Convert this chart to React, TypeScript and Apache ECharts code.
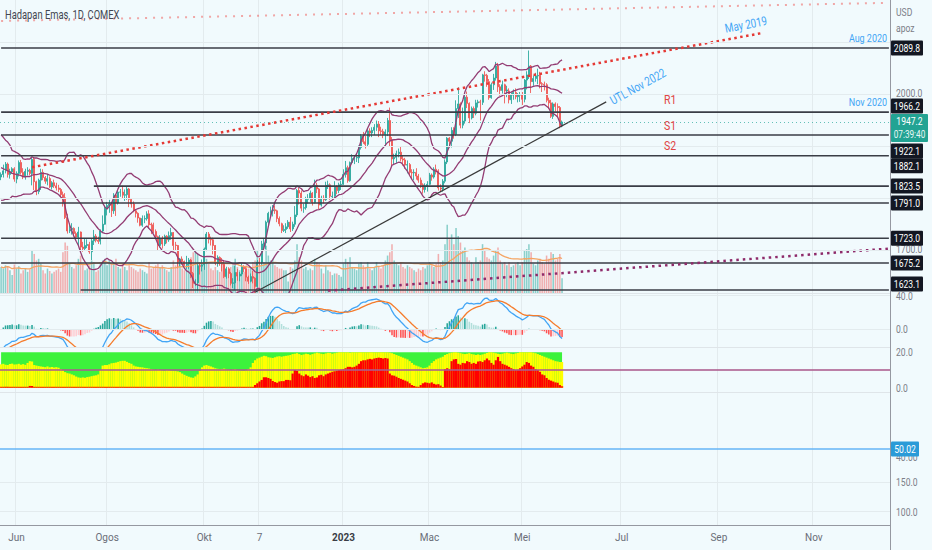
import React, { useEffect, useRef } from "react";
import * as echarts from "echarts";

const FONT = "Roboto, 'Liberation Sans', sans-serif";
const SX = 0.78; // the reference's texts are horizontally condensed

// ---------------- DATA ----------------
const firstDate = "2022-05-20";
const holidays = ["2022-05-30", "2022-06-20", "2022-07-04", "2022-09-05", "2022-11-24", "2022-12-26", "2023-01-02", "2023-01-16", "2023-02-20", "2023-04-07"];
const totalSlots = 403;

// daily candles: [open, close, low, high]
const ohlcMay22 = [[1841,1846,1835,1850],[1846,1853,1840,1865],[1853,1866,1848,1870],[1866,1846,1840,1869],[1846,1851,1838,1857],[1851,1857,1847,1860],[1857,1837,1832,1860]];
const ohlcJun22 = [[1837,1848,1829,1852],[1848,1869,1842,1873],[1869,1850,1846,1874],[1850,1841,1837,1858],[1841,1852,1836,1857],[1852,1854,1844,1860],[1854,1848,1844,1857],[1848,1875,1825,1878],[1875,1832,1816,1878],[1832,1813,1806,1834],[1813,1835,1808,1838],[1835,1850,1816,1857],[1850,1840,1835,1856],[1840,1833,1828,1843],[1833,1838,1825,1847],[1838,1822,1820,1842],[1822,1830,1817,1833],[1830,1824,1820,1836],[1824,1820,1815,1830],[1820,1817,1812,1826],[1817,1807,1802,1820]];
const ohlcJul22 = [[1807,1801,1784,1813],[1801,1763,1760,1810],[1763,1737,1732,1770],[1737,1740,1733,1748],[1740,1742,1730,1752],[1742,1732,1729,1744],[1732,1725,1722,1736],[1725,1735,1709,1745],[1735,1706,1697,1736],[1706,1703,1697,1716],[1703,1709,1700,1723],[1709,1711,1704,1721],[1711,1697,1693,1716],[1697,1718,1681,1722],[1718,1727,1710,1739],[1727,1719,1715,1731],[1719,1717,1712,1726],[1717,1737,1711,1740],[1737,1750,1733,1767],[1750,1781,1749,1784]];
const ohlcAug22 = [[1781,1786,1767,1793],[1786,1789,1772,1797],[1789,1776,1764,1791],[1776,1806,1770,1810],[1806,1791,1766,1808],[1791,1812,1788,1815],[1812,1812,1803,1818],[1812,1806,1800,1824],[1806,1807,1795,1817],[1807,1818,1797,1822],[1818,1798,1783,1820],[1798,1789,1782,1800],[1789,1776,1773,1794],[1776,1771,1763,1779],[1771,1762,1753,1773],[1762,1748,1746,1763],[1748,1761,1745,1767],[1760,1761,1752,1767],[1761,1770,1757,1775],[1770,1749,1742,1777],[1750,1749,1731,1753],[1749,1736,1733,1753],[1736,1726,1721,1740]];
const ohlcSep22 = [[1726,1709,1700,1728],[1709,1722,1705,1729],[1722,1712,1703,1727],[1712,1727,1708,1730],[1727,1720,1713,1729],[1720,1728,1716,1736],[1728,1734,1720,1743],[1734,1709,1697,1735],[1710,1709,1700,1716],[1709,1677,1665,1710],[1677,1683,1668,1685],[1683,1678,1672,1688],[1678,1671,1668,1680],[1671,1673,1664,1689],[1673,1681,1664,1685],[1681,1655,1646,1683],[1655,1636,1627,1658],[1636,1637,1631,1644],[1637,1670,1622,1674],[1670,1669,1653,1675],[1669,1672,1659,1682]];
const ohlcOct22 = [[1672,1702,1662,1705],[1702,1731,1698,1735],[1731,1721,1713,1735],[1721,1720,1709,1726],[1720,1709,1692,1724],[1709,1675,1671,1710],[1675,1686,1668,1690],[1686,1677,1670,1688],[1677,1673,1659,1685],[1673,1649,1646,1680],[1649,1664,1645,1668],[1664,1655,1646,1667],[1655,1636,1632,1658],[1636,1637,1627,1646],[1637,1657,1623,1670],[1657,1650,1641,1664],[1650,1654,1640,1658],[1654,1669,1650,1675],[1669,1664,1658,1671],[1664,1648,1640,1668],[1648,1640,1635,1651]];
const ohlcNov22 = [[1640,1649,1638,1655],[1649,1646,1636,1660],[1646,1630,1617,1648],[1630,1677,1628,1681],[1677,1676,1670,1685],[1676,1712,1672,1718],[1712,1714,1701,1722],[1714,1754,1702,1757],[1754,1771,1746,1774],[1771,1776,1765,1784],[1776,1778,1765,1787],[1778,1776,1770,1786],[1776,1761,1754,1778],[1761,1751,1746,1765],[1751,1738,1733,1753],[1738,1740,1735,1748],[1740,1745,1733,1752],[1745,1754,1741,1758],[1754,1741,1735,1764],[1741,1750,1737,1755],[1750,1768,1745,1785]];
const ohlcDec22 = [[1768,1815,1764,1818],[1815,1810,1788,1820],[1810,1781,1775,1815],[1781,1782,1772,1790],[1782,1798,1778,1803],[1798,1800,1790,1808],[1800,1810,1793,1815],[1810,1792,1786,1812],[1792,1825,1790,1836],[1825,1818,1810,1830],[1818,1787,1779,1820],[1787,1800,1784,1805],[1800,1797,1790,1806],[1797,1825,1795,1832],[1825,1826,1818,1834],[1826,1804,1797,1829],[1803,1804,1798,1813],[1804,1823,1800,1833],[1823,1815,1808,1825],[1815,1826,1810,1830],[1826,1827,1816,1834]];
const ohlcJan23 = [[1827,1846,1826,1856],[1846,1859,1840,1872],[1859,1834,1830,1863],[1834,1869,1832,1871],[1869,1877,1866,1885],[1877,1878,1866,1883],[1878,1879,1870,1885],[1878,1898,1868,1902],[1898,1920,1894,1924],[1920,1909,1905,1928],[1909,1904,1896,1920],[1904,1930,1900,1935],[1930,1926,1918,1935],[1926,1931,1918,1937],[1931,1937,1922,1943],[1937,1943,1930,1950],[1943,1930,1918,1949],[1930,1929,1922,1938],[1929,1923,1916,1934],[1923,1928,1900,1933]];
const ohlcFeb23 = [[1928,1950,1920,1955],[1950,1912,1900,1975],[1912,1876,1862,1918],[1876,1879,1866,1886],[1879,1886,1868,1892],[1886,1889,1879,1896],[1889,1876,1871,1900],[1876,1874,1863,1882],[1874,1864,1857,1878],[1864,1865,1848,1873],[1865,1850,1845,1868],[1850,1849,1838,1856],[1849,1850,1835,1856],[1850,1843,1836,1858],[1843,1835,1830,1847],[1835,1826,1820,1840],[1826,1817,1809,1829],[1817,1824,1811,1829],[1824,1827,1813,1833]];
const ohlcMar23 = [[1827,1845,1825,1849],[1845,1841,1834,1848],[1841,1856,1838,1860],[1856,1853,1846,1865],[1853,1820,1815,1856],[1820,1818,1812,1827],[1818,1833,1813,1837],[1833,1870,1829,1875],[1870,1916,1866,1918],[1916,1910,1898,1918],[1910,1931,1898,1937],[1931,1923,1915,1937],[1923,1973,1920,1989],[1973,1982,1955,2014],[1982,1941,1935,1985],[1941,1949,1935,1975],[1949,1995,1944,2000],[1995,1983,1974,2006],[1983,1955,1945,1985],[1955,1973,1952,1977],[1973,1964,1955,1977],[1964,1984,1960,1990],[1984,1986,1975,1990]];
const ohlcApr23 = [[1986,1985,1950,1990],[1985,2038,1980,2040],[2038,2037,2025,2045],[2037,2025,2015,2040],[2025,1994,1990,2030],[1994,2019,1992,2023],[2019,2032,2009,2040],[2032,2055,2027,2063],[2055,2015,2005,2061],[2015,2008,1998,2020],[2008,2019,2002,2027],[2019,2007,1983,2021],[2007,2009,1995,2017],[2007,1990,1983,2012],[1990,1999,1982,2004],[1999,2004,1990,2010],[2004,1996,1991,2012],[1996,1999,1985,2003],[1999,2000,1986,2005]];
const ohlcMay23 = [[1999,1991,1980,2005],[1991,2028,1985,2030],[2028,2038,2010,2045],[2038,2055,2030,2085],[2055,2025,2003,2057],[2025,2031,2017,2037],[2031,2036,2025,2042],[2036,2037,2020,2050],[2037,2021,2012,2044],[2021,2020,2005,2024],[2020,2019,2008,2025],[2019,1989,1985,2022],[1989,1984,1972,1994],[1984,1958,1955,1990],[1958,1982,1953,1985],[1982,1977,1967,1985],[1977,1975,1956,1983],[1975,1940,1935,1978],[1940,1947.2,1937,1950]];
const ohlcMonths = [ohlcMay22, ohlcJun22, ohlcJul22, ohlcAug22, ohlcSep22, ohlcOct22, ohlcNov22, ohlcDec22, ohlcJan23, ohlcFeb23, ohlcMar23, ohlcApr23, ohlcMay23];

// closes before the first visible bar (Apr 1 - May 19 2022), only used to seed the indicators
const warmupCloses = [1925,1933,1926,1925,1932,1945,1946,1954,1976,1964,1974,1978,1986,1950,1946,1949,1934,1898,1904,1885,1896,1911,1863,1870,1882,1875,1882,1858,1841,1853,1824,1808,1814,1818,1816,1841];

// volume (thousands of contracts)
const volMay22 = [160,150,170,165,140,110,175];
const volJun22 = [150,165,120,140,150,130,145,260,240,200,210,180,140,120,150,135,120,130,140,150,130];
const volJul22 = [250,310,290,180,160,150,170,210,230,180,140,150,170,200,190,130,140,190,200,210];
const volAug22 = [170,200,180,190,210,160,150,180,160,140,170,160,150,140,130,150,140,130,120,190,150,160,170];
const volSep22 = [180,160,170,150,140,130,160,200,170,230,180,150,140,170,160,220,250,260,240,190,170];
const volOct22 = [220,210,180,150,140,160,140,130,180,170,140,130,160,170,210,160,140,150,130,170,150];
const volNov22 = [160,190,200,260,170,200,190,290,230,200,210,170,160,150,150,140,140,70,160,150,200];
const volDec22 = [300,220,200,150,160,140,150,140,210,190,180,150,120,170,140,130,110,120,120,110,100];
const volJan23 = [180,210,190,220,160,150,140,180,190,170,160,190,150,140,160,190,160,150,170,200];
const volFeb23 = [230,250,300,200,180,170,190,160,150,170,160,150,140,130,150,140,160,150,170];
const volMar23 = [190,170,160,180,240,190,200,300,420,330,360,300,400,350,310,260,280,220,200,190,180,220,190];
const volApr23 = [200,300,260,220,210,200,230,260,280,200,180,190,170,190,160,170,180,190,170];
const volMay23 = [190,260,270,300,250,180,170,200,210,190,180,230,210,250,240,200,210,240,90];
const volMonths = [volMay22, volJun22, volJul22, volAug22, volSep22, volOct22, volNov22, volDec22, volJan23, volFeb23, volMar23, volApr23, volMay23];

// third pane oscillator: green band top, yellow and red columns
const greenTop = 20;
const yelMay22 = [13.2,13.5,13,12.8,13.4,13.6,13.1];
const yelJun22 = [13.2,13.5,13,13.3,12.9,14,15,14.8,12.8,12.5,12.2,12,11.8,11.6,12,11.5,11.7,11.4,11.6,11.3,10.5];
const yelJul22 = [9.8,8.8,8.2,8,7.5,7,6.3,5.8,5.6,5.8,5.6,6,6.2,6.5,6.8,7,7.5,10,12.5,12.8];
const yelAug22 = [12.8,13.2,13.8,14,14.2,14.6,15,15.2,15.2,14.6,14,13.5,12.5,12,11.8,11.6,11.5,11.2,11,10.8,10.5,10.2,10];
const yelSep22 = [10.2,10,9.8,9.6,10,9.8,9.6,9.5,9.4,9.2,8.8,8,7.3,6.7,6.2,5.8,5.6,6.4,7.5,9.5,11.5];
const yelOct22 = [12.5,12.8,12.4,12,11.5,11,10.7,10.5,10.6,10.8,10.4,10.2,10,10.2,10.5,10,9.8,9.6,9.5,9.8,10.5];
const yelNov22 = [11.5,14,15.5,16.5,17,17.5,18,17.8,17.2,17,16.8,17.2,17.6,17.8,17.5,17.8,18,18.2,18.5,19,19.2];
const yelDec22 = [19.5,19,18.5,18.8,19.2,19,18.6,19,19.4,19.8,19.5,19.2,19,19.4,19.7,19.6,19.2,19.5,19.8,20,20];
const yelJan23 = [20,20,20,19.8,20,20,20,20,20,20,20,20,20,20,20,20,20,20,20,20];
const yelFeb23 = [20,19.8,19.5,19,18.5,18,17.5,17,16.5,16,15,14,13,12.5,12,11.5,11,11.2,11.5];
const yelMar23 = [12.5,14,15,16,16.5,17,17.5,18.5,19,19.5,19.8,20,20,19.8,19.5,19.2,19,19.2,19.5,19,18.8,18.5,18.8];
const yelApr23 = [18.5,18.8,19.2,19.6,20,20,19.8,19.5,19.2,19,19.2,19.5,19.8,19.5,19.2,19,19.4,19.6,20];
const yelMay23 = [20,20,20,20,20,19.8,19.5,19,18.5,18,17.5,17,16.5,16,15.5,15,14.8,14.5,14.5];
const yelMonths = [yelMay22, yelJun22, yelJul22, yelAug22, yelSep22, yelOct22, yelNov22, yelDec22, yelJan23, yelFeb23, yelMar23, yelApr23, yelMay23];

const redMay22 = [0.5,0.5,0.5,0.5,0.5,0.5,0.5];
const redJun22 = [0.5,0.5,0.5,0.5,0.5,0.5,1,1,0.5,0.5,0.5,0.5,0.5,0.5,0.5,0.5,0.5,0.5,0.5,0.5,0.5];
const redJul22 = [0.5,0.5,0.5,0.5,0.5,0.5,0.5,0.5,0.5,0.5,0.5,0.5,0.5,0.5,0.5,0.5,0.5,0.5,0.5,0.5];
const redAug22 = [0.5,0.5,0.5,0.5,0.5,0.5,0.5,0.5,0.5,0.5,0.5,0.5,0.5,0.5,0.5,0.5,0.5,0.5,0.5,0.5,0.5,0.5,0.5];
const redSep22 = [0.5,0.5,0.5,0.5,0.5,0.5,0.5,0.5,0.5,0.5,0.5,0.5,0.5,0.5,0.5,0.5,0.5,0.5,0.5,0.5,0.5];
const redOct22 = [0.5,0.5,0.5,0.5,0.5,0.5,0.5,0.5,0.5,0.5,0.5,0.5,0.5,0.5,0.5,0.5,0.5,0.5,0.5,0.5,0.5];
const redNov22 = [0.5,0.5,1.5,2.5,3.5,4.4,5.9,5.9,5.5,5,3.8,3.2,2.8,3.5,3.7,3.7,4.4,4.4,4.2,8,10];
const redDec22 = [9.5,8,7,6.5,7.5,6.8,6,6.5,5.5,5.8,7,7.3,6.5,7.5,8,8.5,9,9.3,9.6,10,10.2];
const redJan23 = [10.5,11,11.8,11.8,11.5,11.8,12.5,13.5,15,15.5,15.5,16,16.3,16,16.5,16.8,17,16.8,16.5,16.8];
const redFeb23 = [16.5,8,7,6.8,6.2,5.5,5,4.5,4,3.5,2.5,1.5,1,0.6,0.5,1.5,2.5,3,2.8];
const redMar23 = [2.5,3,2.2,1.8,2,1.2,0.4,10.5,11,10.5,15,16,16.2,13.5,13,14,13.8,15,14.5,13.5,14,13.5,14.8];
const redApr23 = [15,14.5,15.5,16.5,15.5,14,13,15.5,17.4,15,13.5,13,12.5,11.8,11,10.5,10,10.2,11];
const redMay23 = [12,13,14.5,14,12.5,11.8,10.5,10,9,7.5,7,5.5,4.5,4,3.5,3,2.8,1.5,0.8];
const redMonths = [redMay22, redJun22, redJul22, redAug22, redSep22, redOct22, redNov22, redDec22, redJan23, redFeb23, redMar23, redApr23, redMay23];
const oscLevel = 10;
const lowerPaneValue = 50.02;

// horizontal support / resistance levels and the date each one starts at
const levelPrices = [2089.8, 1966.2, 1922.1, 1882.1, 1823.5, 1791.0, 1723.0, 1675.2, 1623.1];
const levelStarts = ["2022-05-20", "2022-05-20", "2022-05-20", "2022-05-20", "2022-07-22", "2022-05-20", "2022-05-20", "2022-05-20", "2022-07-14"];

// trend lines: [date, price] anchors
const topChannel = [["2022-05-20", 2142], ["2023-12-19", 2177]];
const may2019Line = [["2022-06-10", 1860], ["2023-09-29", 2119]];
const lowerChannel = [["2022-12-21", 1622], ["2023-12-19", 1703]];
const utlNov2022 = [["2022-11-03", 1619], ["2023-06-22", 1986]];

// time axis labels
const timeLabels = [["2022-06-01", "Jun"], ["2022-08-01", "Ogos"], ["2022-10-03", "Okt"], ["2022-11-07", "7"], ["2023-01-03", "2023"], ["2023-03-01", "Mac"], ["2023-05-01", "Mei"], ["2023-07-03", "Jul"], ["2023-09-01", "Sep"], ["2023-11-01", "Nov"]];
const priceGrid = [2100, 2000, 1900, 1800, 1700];
const priceAxisLabels = [2000, 1700];

// ---------------- HELPERS ----------------
const ohlc: number[][] = ([] as number[][]).concat(...ohlcMonths);
const vols: number[] = ([] as number[]).concat(...volMonths);
const yellow: number[] = ([] as number[]).concat(...yelMonths);
const red: number[] = ([] as number[]).concat(...redMonths);

function buildDates(nData: number) {
  const hol = new Set(holidays);
  const out: string[] = [];
  const [y, m, d] = firstDate.split("-").map(Number);
  const cur = new Date(Date.UTC(y, m - 1, d));
  while (out.length < totalSlots) {
    const wd = cur.getUTCDay();
    const s = cur.toISOString().slice(0, 10);
    if (wd !== 0 && wd !== 6) {
      if (out.length < nData) {
        if (!hol.has(s)) out.push(s);
      } else out.push(s);
    }
    cur.setUTCDate(cur.getUTCDate() + 1);
  }
  return out;
}

function ema(arr: number[], n: number) {
  const k = 2 / (n + 1);
  const out: number[] = [];
  let e = arr[0];
  arr.forEach((v, i) => {
    e = i === 0 ? v : v * k + e * (1 - k);
    out.push(e);
  });
  return out;
}

const f1 = (v: number) => v.toFixed(1);

function buildOption(dates: string[]) {
  const n = ohlc.length;
  const closes = ohlc.map((r) => r[1]);
  const all = warmupCloses.concat(closes);
  const off = warmupCloses.length;

  const bbU: number[] = [], bbM: number[] = [], bbL: number[] = [];
  for (let i = off; i < all.length; i++) {
    const w = all.slice(i - 19, i + 1);
    const mean = w.reduce((a, b) => a + b, 0) / w.length;
    const sd = Math.sqrt(w.reduce((a, b) => a + (b - mean) * (b - mean), 0) / w.length);
    bbM.push(+mean.toFixed(2));
    bbU.push(+(mean + 2 * sd).toFixed(2));
    bbL.push(+(mean - 2 * sd).toFixed(2));
  }

  const e12 = ema(all, 12), e26 = ema(all, 26);
  const macdAll = e12.map((v, i) => v - e26[i]);
  const sigAll = ema(macdAll, 9);
  const macd = macdAll.slice(off);
  const sig = sigAll.slice(off);
  const histAll = macdAll.map((v, i) => v - sigAll[i]);
  const hist = histAll.slice(off).map((h, i) => {
    const prev = histAll[off + i - 1];
    let color;
    if (h >= 0) color = h > prev ? "#26a69a" : "#b2dfdb";
    else color = h < prev ? "#ff5252" : "#ffcdd2";
    return { value: +h.toFixed(3), itemStyle: { color } };
  });

  const volMA = vols.map((_, i) => {
    const w = vols.slice(Math.max(0, i - 19), i + 1);
    return +(w.reduce((a, b) => a + b, 0) / w.length).toFixed(1);
  });
  const volData = vols.map((v, i) => ({
    value: v,
    itemStyle: { color: ohlc[i][1] >= ohlc[i][0] ? "rgba(38,166,154,0.5)" : "rgba(239,83,80,0.45)" },
  }));

  const labelMap = new Map(timeLabels.map(([d, t]) => [d, t]));
  const labelIdx = new Set(timeLabels.map(([d]) => dates.indexOf(d)));

  const grids = [
    { left: 0, right: 42, top: 0, height: 293 },
    { left: 0, right: 42, top: 293, height: 54 },
    { left: 0, right: 42, top: 347, height: 45 },
    { left: 0, right: 42, top: 392, height: 133 },
  ];
  const xAxis = grids.map((_, i) => ({
    type: "category",
    gridIndex: i,
    data: dates,
    boundaryGap: true,
    axisLine: { show: i === 3, onZero: false, lineStyle: { color: "#9598a1", width: 1 } },
    axisTick: { show: false },
    axisLabel:
      i === 3
        ? {
            interval: (idx: number) => labelIdx.has(idx),
            formatter: (v: string) => {
              const t = labelMap.get(v) || "";
              return t === "2023" ? "{b|2023}" : t;
            },
            color: "#6a6d78",
            fontSize: 10,
            fontFamily: FONT,
            margin: 7,
            rich: { b: { fontWeight: "bold", color: "#3a3d46", fontSize: 10, fontFamily: FONT } },
          }
        : { show: false },
    splitLine: { show: true, interval: (idx: number) => labelIdx.has(idx), lineStyle: { color: "#e3ebee", width: 1 } },
  }));
  const yAxis = [
    { type: "value", gridIndex: 0, position: "right", min: 1617.4, max: 2182.4, show: false },
    { type: "value", gridIndex: 0, min: 0, max: 1800, show: false },
    { type: "value", gridIndex: 1, min: -21.6, max: 43.2, show: false },
    { type: "value", gridIndex: 2, min: -2.43, max: 23, show: false },
    { type: "value", gridIndex: 3, min: 77.4, max: 303.6, show: false },
    { type: "value", gridIndex: 3, min: -58.5, max: 131.5, show: false },
  ];

  const faint = { color: "#e3ebee", width: 1, type: "solid" };
  const lineBase = { type: "line", symbol: "none", silent: true, animation: false };
  const series: any[] = [
    {
      ...lineBase, xAxisIndex: 0, yAxisIndex: 0, data: [],
      markLine: { silent: true, symbol: "none", label: { show: false }, lineStyle: faint, data: priceGrid.map((p) => ({ yAxis: p })) },
    },
    { type: "bar", xAxisIndex: 0, yAxisIndex: 1, data: volData, barCategoryGap: "30%", silent: true },
    { ...lineBase, xAxisIndex: 0, yAxisIndex: 1, data: volMA, lineStyle: { color: "#f5a462", width: 1.3 } },
    { ...lineBase, xAxisIndex: 0, yAxisIndex: 0, data: bbU, lineStyle: { color: "#933c73", width: 1.3 } },
    { ...lineBase, xAxisIndex: 0, yAxisIndex: 0, data: bbM, lineStyle: { color: "#933c73", width: 1.3 } },
    { ...lineBase, xAxisIndex: 0, yAxisIndex: 0, data: bbL, lineStyle: { color: "#933c73", width: 1.3 } },
    {
      type: "candlestick", xAxisIndex: 0, yAxisIndex: 0, silent: true, barWidth: "68%",
      data: ohlc,
      itemStyle: { color: "rgba(38,166,154,0.85)", color0: "rgba(239,83,80,0.85)", borderColor: "rgba(38,166,154,0.85)", borderColor0: "rgba(239,83,80,0.85)", borderWidth: 1 },
      markLine: {
        silent: true, symbol: "none", label: { show: false },
        lineStyle: { color: "#26a69a", type: [1, 3], width: 1, opacity: 0.7 },
        data: [{ yAxis: closes[closes.length - 1] }],
      },
    },
  ];
  levelPrices.forEach((p, i) => {
    series.push({ ...lineBase, xAxisIndex: 0, yAxisIndex: 0, data: [[levelStarts[i], p], [dates[dates.length - 1], p]], lineStyle: { color: "#3a3d46", width: 1.6 } });
  });
  series.push({ ...lineBase, xAxisIndex: 0, yAxisIndex: 0, data: topChannel, lineStyle: { color: "rgba(239,83,80,0.5)", width: 2, type: [2, 6] } });
  series.push({ ...lineBase, xAxisIndex: 0, yAxisIndex: 0, data: may2019Line, lineStyle: { color: "#e53935", width: 2.5, type: [2.5, 3.5] } });
  series.push({ ...lineBase, xAxisIndex: 0, yAxisIndex: 0, data: lowerChannel, lineStyle: { color: "#8e2a6a", width: 2.5, type: [2.5, 4] } });
  series.push({ ...lineBase, xAxisIndex: 0, yAxisIndex: 0, data: utlNov2022, lineStyle: { color: "#3a3a3a", width: 1.2 } });

  // MACD pane
  series.push({
    ...lineBase, xAxisIndex: 1, yAxisIndex: 2, data: [],
    markLine: { silent: true, symbol: "none", label: { show: false }, lineStyle: faint, data: [{ yAxis: 40 }, { yAxis: 0 }] },
  });
  series.push({ type: "bar", xAxisIndex: 1, yAxisIndex: 2, data: hist, barCategoryGap: "30%", silent: true });
  series.push({ ...lineBase, xAxisIndex: 1, yAxisIndex: 2, data: macd.map((v) => +v.toFixed(3)), lineStyle: { color: "#42a5f5", width: 1.3 } });
  series.push({ ...lineBase, xAxisIndex: 1, yAxisIndex: 2, data: sig.map((v) => +v.toFixed(3)), lineStyle: { color: "#f57c2c", width: 1.3 } });

  // oscillator pane
  series.push({
    ...lineBase, xAxisIndex: 2, yAxisIndex: 3, data: [], z: 1,
    markArea: { silent: true, itemStyle: { color: "#3cf23c", opacity: 1 }, data: [[{ xAxis: dates[0], yAxis: 0 }, { xAxis: dates[n - 1], yAxis: greenTop }]] },
  });
  series.push({ type: "bar", xAxisIndex: 2, yAxisIndex: 3, data: yellow, barCategoryGap: "0%", barGap: "-100%", itemStyle: { color: "#ffff00" }, silent: true, z: 2 });
  series.push({
    type: "bar", xAxisIndex: 2, yAxisIndex: 3, data: red, barCategoryGap: "0%", barGap: "-100%", itemStyle: { color: "#ff0000" }, silent: true, z: 3,
    markLine: { silent: true, symbol: "none", label: { show: false }, lineStyle: { color: "rgba(172,92,142,0.78)", width: 2, type: "solid" }, data: [{ yAxis: oscLevel }] },
  });

  // bottom pane
  series.push({
    ...lineBase, xAxisIndex: 3, yAxisIndex: 4, data: [],
    markLine: { silent: true, symbol: "none", label: { show: false }, lineStyle: faint, data: [{ yAxis: 150 }, { yAxis: 100 }] },
  });
  series.push({
    ...lineBase, xAxisIndex: 3, yAxisIndex: 5, data: [],
    markLine: { silent: true, symbol: "none", label: { show: false }, lineStyle: { color: "#64b5f6", width: 1.6, type: "solid" }, data: [{ yAxis: lowerPaneValue }] },
  });

  return {
    animation: false,
    backgroundColor: "#f1fafd",
    grid: grids,
    xAxis,
    yAxis,
    series,
  };
}

function txt(text: string, x: number, y: number, fill: string, size: number, extra: any = {}) {
  const { align, weight, rotation } = extra;
  return {
    type: "text", x, y, z: 100, scaleX: SX, rotation: rotation || 0,
    style: {
      text, fill, font: `${weight || "normal"} ${size}px ${FONT}`,
      align: align || "left", verticalAlign: "middle",
      textAlign: align || "left", textVerticalAlign: "middle",
    },
  };
}

function tagBox(text: string, cy: number, fill: string, width = 32) {
  return {
    type: "group", x: 891, y: cy - 7.5, z: 100,
    children: [
      { type: "rect", z: 100, shape: { x: 0, y: 0, width, height: 15, r: 1 }, style: { fill } },
      { type: "text", z: 101, x: width / 2, y: 7.5, scaleX: SX, style: { text, fill: "#ffffff", font: `11px ${FONT}`, align: "center", verticalAlign: "middle", textAlign: "center", textVerticalAlign: "middle" } },
    ],
  };
}

function buildGraphic(chart: any) {
  const py = (v: number, axis: number) => chart.convertToPixel({ yAxisIndex: axis }, v) as number;
  const g: any[] = [];
  g.push({ type: "line", z: 90, shape: { x1: 890.5, y1: 0, x2: 890.5, y2: 550 }, style: { stroke: "#9598a1", lineWidth: 1 } });
  [293, 347, 392].forEach((y) => g.push({ type: "line", z: 90, shape: { x1: 0, y1: y + 0.5, x2: 890, y2: y + 0.5 }, style: { stroke: "#dfe5e9", lineWidth: 1 } }));

  const gray = "#7b7e88";
  g.push(txt("Hadapan Emas, 1D, COMEX", 5, 15, "#434651", 12));
  g.push(txt("USD", 896, 12, gray, 11));
  g.push(txt("apoz", 896, 28, gray, 11));

  priceAxisLabels.forEach((p) => g.push(txt(f1(p), 896, py(p, 0) - 1, gray, 11)));
  g.push(txt("40.0", 896, py(40, 2), gray, 11));
  g.push(txt("0.0", 896, py(0, 2), gray, 11));
  g.push(txt("20.0", 896, py(20, 3), gray, 11));
  g.push(txt("0.0", 896, py(0, 3), gray, 11));
  g.push(txt("150.0", 896, py(150, 4), gray, 11));
  g.push(txt("100.0", 896, py(100, 4), gray, 11));
  g.push(txt("40.00", 896, py(40, 5) + 1, gray, 11));
  g.push(tagBox(lowerPaneValue.toFixed(2), py(lowerPaneValue, 5), "#2a9bd8", 28));

  // level tags (some are pushed aside where they would overlap, as on the original)
  const shift: Record<string, number> = { "1966.2": -6, "1922.1": 16, "1882.1": 10, "1623.1": -6 };
  levelPrices.forEach((p) => {
    const t = f1(p);
    g.push(tagBox(t, py(p, 0) + (shift[t] || 0), "#131722"));
  });
  const last = ohlc[ohlc.length - 1][1];
  const ly = py(last, 0);
  g.push({
    type: "group", x: 891, y: ly - 8, z: 100,
    children: [
      { type: "rect", z: 100, shape: { x: 0, y: 0, width: 37, height: 28, r: 1 }, style: { fill: "#22a393" } },
      { type: "text", z: 101, x: 18.5, y: 7.5, scaleX: SX, style: { text: f1(last), fill: "#fff", font: `11px ${FONT}`, align: "center", verticalAlign: "middle", textAlign: "center", textVerticalAlign: "middle" } },
      { type: "text", z: 101, x: 18.5, y: 20.5, scaleX: SX, style: { text: "07:39:40", fill: "#e8f7f5", font: `10.5px ${FONT}`, align: "center", verticalAlign: "middle", textAlign: "center", textVerticalAlign: "middle" } },
    ],
  });

  // drawing labels
  g.push(txt("Aug 2020", 887, 38, "#42a5f5", 11.5, { align: "right" }));
  g.push(txt("Nov 2020", 887, 102, "#42a5f5", 11.5, { align: "right" }));
  g.push(txt("May 2019", 746, 25, "#42a5f5", 12.5, { align: "center", rotation: 0.19 }));
  g.push(txt("UTL Nov 2022", 638, 87, "#42a5f5", 12.5, { align: "center", rotation: 0.5 }));
  g.push(txt("R1", 664, 100, "#e04444", 13.5));
  g.push(txt("S1", 664, 126, "#e04444", 13.5));
  g.push(txt("S2", 664, 146, "#e04444", 13.5));
  return g;
}

export default function App() {
  const ref = useRef<HTMLDivElement>(null);
  useEffect(() => {
    document.body.style.margin = "0";
    const chart = echarts.init(ref.current as HTMLDivElement, null, { renderer: "svg" });
    const dates = buildDates(ohlc.length);
    chart.setOption(buildOption(dates));
    chart.setOption({ graphic: buildGraphic(chart) });
    return () => chart.dispose();
  }, []);
  return <div ref={ref} style={{ width: 932, height: 550 }} />;
}
